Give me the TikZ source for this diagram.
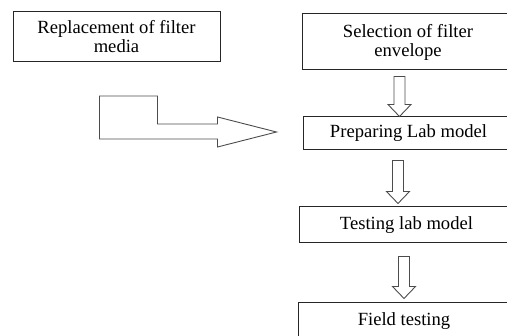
\documentclass[tikz,border=0pt]{standalone}
\usepackage{fontspec}
\setmainfont{Liberation Serif}
\usepackage{tikz}
\usetikzlibrary{positioning,calc}

\newcommand\blockdown[2]{%
  \draw[blk] ($(#1)+(-5.5,0)$) -- ($(#1)+(5.5,0)$) -- ($(#2)+(5.5,-12)$)
    -- ($(#2)+(11.5,-12)$) -- (#2) -- ($(#2)+(-11.5,-12)$)
    -- ($(#2)+(-5.5,-12)$) -- cycle;}

\begin{document}
\begin{tikzpicture}[
  x=1pt,y=-1pt,
  box/.style={draw=black!85,line width=1pt,align=center,inner sep=2pt,
              font=\fontsize{18.6}{19}\selectfont},
  blk/.style={draw=black!70,line width=0.9pt,line join=miter}
]
\useasboundingbox (0,0) rectangle (507,336);
\clip (0,0) rectangle (507,336);

% boxes
\node[box,minimum width=207pt,minimum height=50pt] (repl) at (116.5,37) {Replacement of filter\\media};
\node[box,minimum width=212pt,minimum height=56pt] (sel)  at (408,42)   {Selection of filter\\envelope};
\node[box,minimum width=211pt,minimum height=33pt] (prep) at (408.5,133.5) {Preparing Lab model};
\node[box,minimum width=215pt,minimum height=36pt] (test) at (406.5,225) {Testing lab model};
\node[box,minimum width=212pt,minimum height=37pt] (field) at (404,321.5) {Field testing};

% block arrows down the column
\coordinate (s1) at ($(sel.south)+(-8.5,6)$);
\coordinate (e1) at (s1 |- prep.north);
\blockdown{s1}{e1}
\coordinate (s2) at ($(prep.south)+(-10.5,10)$);
\coordinate (e2) at ($(s2 |- test.north)+(0,-3)$);
\blockdown{s2}{e2}
\coordinate (s3) at ($(test.south)+(-2.5,13)$);
\coordinate (e3) at ($(s3 |- field.north)+(0,-4)$);
\blockdown{s3}{e3}

% bent arrow into the lab model
\coordinate (bt) at ($(prep.west)+(-26,-1.5)$);
\draw[blk] ($(bt)+(-177,-36)$) -- ($(bt)+(-119,-36)$) -- ($(bt)+(-119,-8)$)
  -- ($(bt)+(-59,-8)$) -- ($(bt)+(-59,-15)$) -- (bt) -- ($(bt)+(-59,15)$)
  -- ($(bt)+(-59,7)$) -- ($(bt)+(-177,7)$) -- cycle;
\end{tikzpicture}
\end{document}
